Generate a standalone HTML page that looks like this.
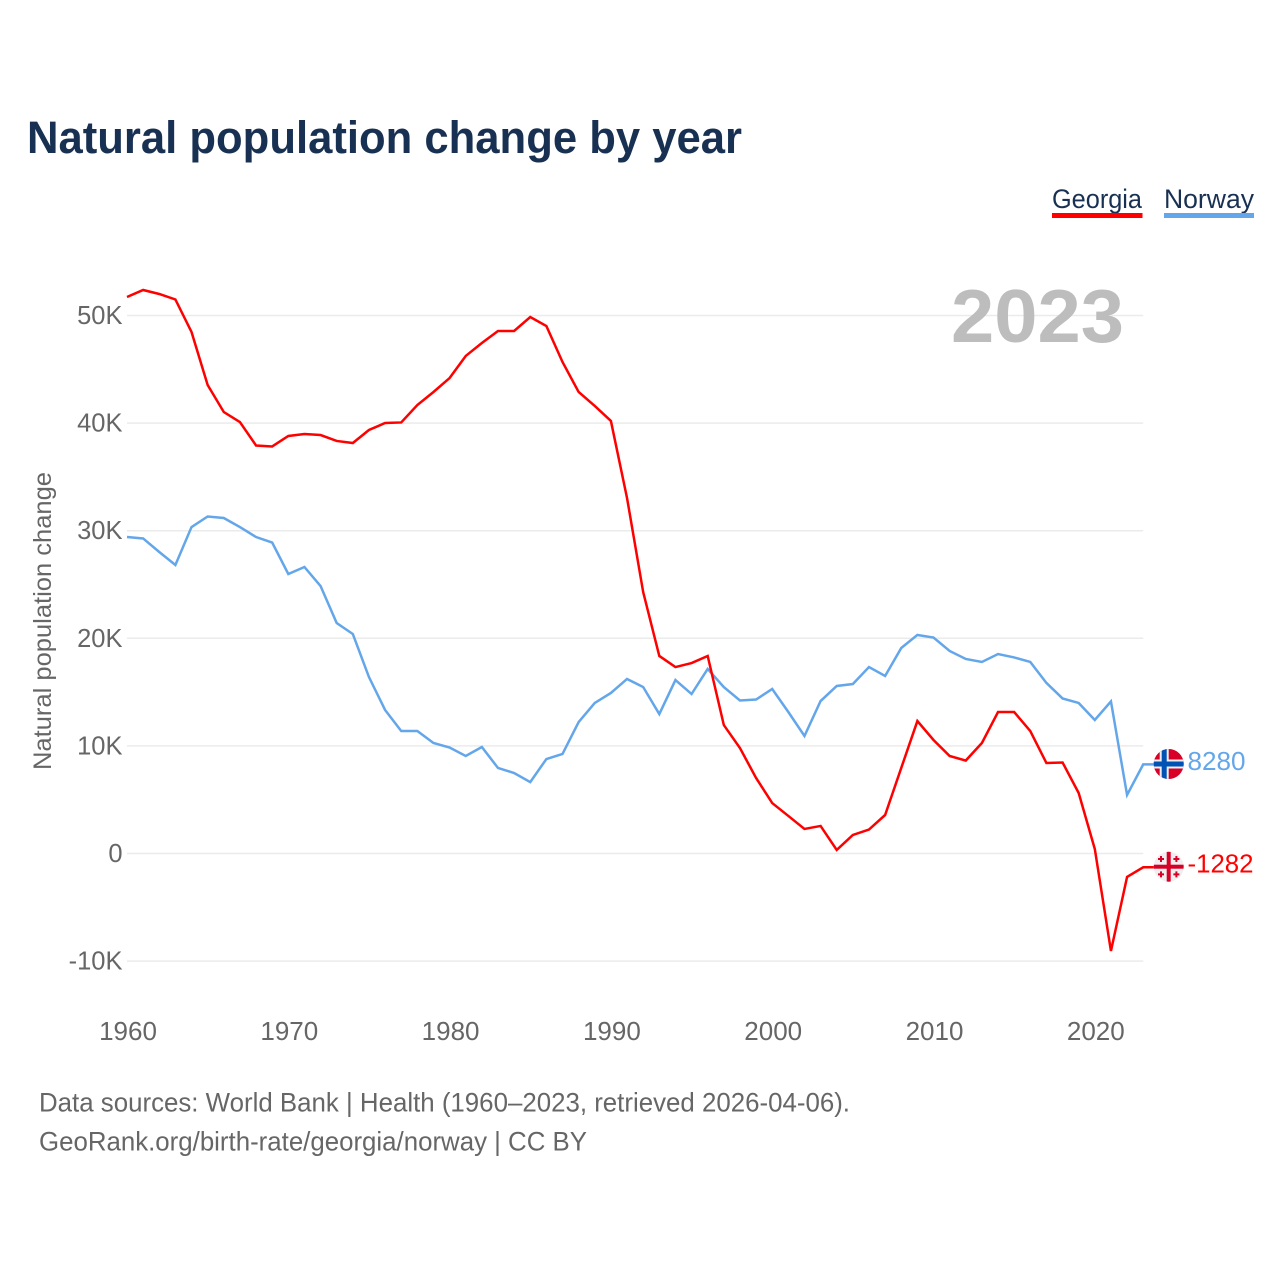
<!DOCTYPE html>
<html lang="en">
<head>
<meta charset="utf-8">
<title>Natural population change by year</title>
<style>
html,body{margin:0;padding:0;background:#fff;width:1280px;height:1280px;overflow:hidden}
svg{display:block}
text{font-family:"Liberation Sans",sans-serif}
</style>
</head>
<body>
<svg id="chart" xmlns="http://www.w3.org/2000/svg" width="1280" height="1280" viewBox="0 0 1280 1280">
  <defs>
    <clipPath id="clip-no"><circle cx="1168.7" cy="764" r="15"></circle></clipPath>
    <clipPath id="clip-ge"><circle cx="1168.7" cy="866.7" r="15"></circle></clipPath>
  </defs>
  <text x="27" y="153" font-size="45" font-weight="700" fill="#183153" textLength="715" lengthAdjust="spacingAndGlyphs">Natural population change by year</text>

  <g>
    <text x="1052" y="208" font-size="27" fill="#183153" textLength="90" lengthAdjust="spacingAndGlyphs">Georgia</text>
    <rect x="1052" y="213" width="90.5" height="5" fill="#ff0000"></rect>
  </g>
  <g>
    <text x="1164" y="208" font-size="27" fill="#183153" textLength="90" lengthAdjust="spacingAndGlyphs">Norway</text>
    <rect x="1164" y="213" width="90" height="5" fill="#64a6ea"></rect>
  </g>

  <g id="grid"></g>
  <g id="yticks"></g>
  <g id="xticks"></g>

  <text x="951" y="342" font-size="75" font-weight="700" fill="#bdbdbd" textLength="173" lengthAdjust="spacingAndGlyphs">2023</text>

  <text transform="translate(51,770) rotate(-90)" x="0" y="0" font-size="25" fill="#666666" textLength="298" lengthAdjust="spacingAndGlyphs">Natural population change</text>

  <g id="series"></g>

  <g clip-path="url(#clip-no)">
    <rect x="1153" y="749" width="32" height="30" fill="#d80027"></rect>
    <rect x="1159.7" y="749" width="9" height="30" fill="#f0f0f0"></rect>
    <rect x="1153" y="759.5" width="32" height="9" fill="#f0f0f0"></rect>
    <rect x="1161.7" y="749" width="5" height="30" fill="#0052b4"></rect>
    <rect x="1153" y="761.5" width="32" height="5" fill="#0052b4"></rect>
  </g>
  <g clip-path="url(#clip-ge)">
    <rect x="1153" y="851" width="32" height="32" fill="#efefef"></rect>
    <rect x="1166.7" y="851" width="4" height="32" fill="#d80027"></rect>
    <rect x="1153" y="864.7" width="32" height="4" fill="#d80027"></rect>
    <path fill="#d80027" d="M1160 856h2v2h2v2h-2v2h-2v-2h-2v-2h2zM1175.4 856h2v2h2v2h-2v2h-2v-2h-2v-2h2zM1160 871.4h2v2h2v2h-2v2h-2v-2h-2v-2h2zM1175.4 871.4h2v2h2v2h-2v2h-2v-2h-2v-2h2z"></path>
  </g>

  <text id="label-norway" x="1187.5" y="770" font-size="26" fill="#64a6ea" textLength="58" lengthAdjust="spacingAndGlyphs"></text>
  <text id="label-georgia" x="1187.5" y="872.5" font-size="26" fill="#ff0000" textLength="66" lengthAdjust="spacingAndGlyphs"></text>

  <text x="39" y="1111.5" font-size="27" fill="#666666" textLength="811" lengthAdjust="spacingAndGlyphs">Data sources: World Bank | Health (1960–2023, retrieved 2026-04-06).</text>
  <text x="39" y="1150.5" font-size="27" fill="#666666" textLength="548" lengthAdjust="spacingAndGlyphs">GeoRank.org/birth-rate/georgia/norway | CC BY</text>
</svg>
<script>
const startYear = 1960;
const xTickYears = [1960, 1970, 1980, 1990, 2000, 2010, 2020];
const yTickValues = [-10000, 0, 10000, 20000, 30000, 40000, 50000];
const yTickLabels = ['-10K', '0', '10K', '20K', '30K', '40K', '50K'];
const georgiaThousands = [
  51.72, 52.37, 52.00, 51.49, 48.47, 43.54, 41.03, 40.10, 37.92, 37.83,
  38.80, 38.99, 38.89, 38.34, 38.15, 39.36, 40.01, 40.06, 41.68, 42.89,
  44.19, 46.24, 47.44, 48.56, 48.56, 49.86, 49.02, 45.68, 42.89, 41.59,
  40.20, 33.04, 24.30, 18.36, 17.33, 17.70, 18.36, 11.94, 9.80, 7.02,
  4.69, 3.49, 2.28, 2.56, 0.33, 1.72, 2.23, 3.58, 7.95, 12.31,
  10.55, 9.06, 8.64, 10.27, 13.15, 13.15, 11.38, 8.41, 8.46, 5.62,
  0.42, -9.06, -2.18, -1.282
];
const norwayThousands = [
  29.41, 29.28, 28.02, 26.81, 30.34, 31.32, 31.18, 30.34, 29.41, 28.90,
  25.98, 26.63, 24.86, 21.42, 20.40, 16.40, 13.34, 11.38, 11.38, 10.27,
  9.85, 9.06, 9.90, 7.95, 7.48, 6.64, 8.78, 9.25, 12.22, 13.99,
  14.92, 16.22, 15.47, 12.96, 16.12, 14.82, 17.15, 15.47, 14.22, 14.31,
  15.29, 13.15, 10.92, 14.17, 15.57, 15.75, 17.33, 16.50, 19.10, 20.31,
  20.07, 18.82, 18.08, 17.80, 18.54, 18.22, 17.80, 15.85, 14.41, 13.99,
  12.41, 14.13, 5.44, 8.28
];
const georgiaEndLabel = '-1282';
const norwayEndLabel = '8280';

const NS = 'http://www.w3.org/2000/svg';
const plotLeft = 127;
const plotRight = 1143.2;
const yearSpan = 63;
function xScale(year) {
  return plotLeft + (year - startYear) * (plotRight - plotLeft) / yearSpan;
}
function yScale(value) {
  return 853.5 - value * 0.01076;
}

const grid = document.getElementById('grid');
const yticks = document.getElementById('yticks');
yTickValues.forEach(function (v, i) {
  const line = document.createElementNS(NS, 'line');
  
  
  line.setAttribute('x1', plotLeft);
  line.setAttribute('x2', plotRight);
  line.setAttribute('y1', yScale(v));
  line.setAttribute('y2', yScale(v));
  line.setAttribute('stroke', '#ebebeb');
  line.setAttribute('stroke-width', '1.5');
  grid.appendChild(line);

  const t = document.createElementNS(NS, 'text');
  
  
  t.setAttribute('x', 122.5);
  t.setAttribute('y', yScale(v) + 8.5);
  t.setAttribute('text-anchor', 'end');
  t.setAttribute('font-size', '25.5');
  t.setAttribute('fill', '#666666');
  t.textContent = yTickLabels[i];
  yticks.appendChild(t);
});

const xticks = document.getElementById('xticks');
xTickYears.forEach(function (year) {
  const t = document.createElementNS(NS, 'text');
  
  
  t.setAttribute('x', xScale(year) + 1);
  t.setAttribute('y', 1040);
  t.setAttribute('text-anchor', 'middle');
  t.setAttribute('font-size', '26');
  t.setAttribute('fill', '#666666');
  t.textContent = String(year);
  xticks.appendChild(t);
});

const seriesGroup = document.getElementById('series');
function drawSeries(values, color) {
  const pts = values.map(function (v, i) {
    return xScale(startYear + i).toFixed(2) + ',' + yScale(v * 1000).toFixed(2);
  });
  pts.push('1156,' + yScale(values[values.length - 1] * 1000).toFixed(2));
  const line = document.createElementNS(NS, 'polyline');
  line.setAttribute('points', pts.join(' '));
  line.setAttribute('fill', 'none');
  line.setAttribute('stroke', color);
  line.setAttribute('stroke-width', '2.5');
  line.setAttribute('stroke-linejoin', 'miter');
  seriesGroup.appendChild(line);
  return line;
}
const norwayLine = drawSeries(norwayThousands, '#64a6ea');


const georgiaLine = drawSeries(georgiaThousands, '#ff0000');



document.getElementById('label-norway').textContent = norwayEndLabel;
document.getElementById('label-georgia').textContent = georgiaEndLabel;
</script>
</body>
</html>
